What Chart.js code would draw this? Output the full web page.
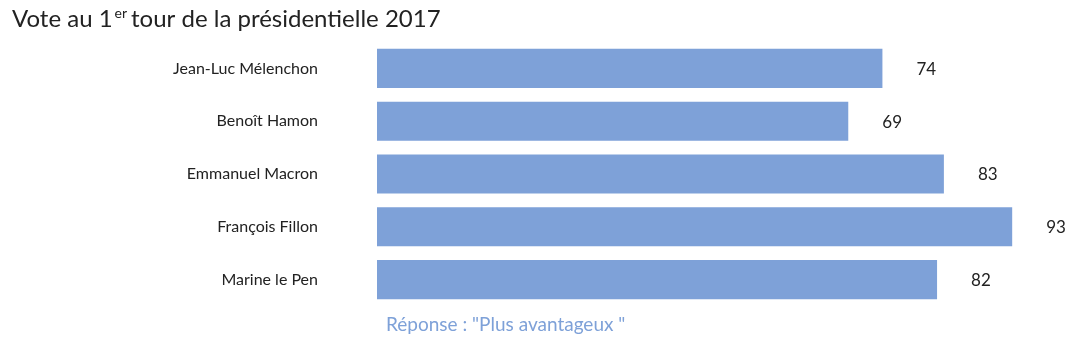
<!DOCTYPE html>
<html>
<head>
<meta charset="utf-8">
<script src="https://cdn.jsdelivr.net/npm/chart.js@4"></script>
<style>
  html, body { margin: 0; padding: 0; background: #fff; }
  #wrap { width: 1077px; height: 345px; position: relative; }
</style>
</head>
<body>
<div id="wrap"><canvas id="myChart" width="1077" height="345"></canvas></div>
<script>
// data
const candidats = ["Jean-Luc Mélenchon", "Benoît Hamon", "Emmanuel Macron", "François Fillon", "Marine le Pen"];
const scores = [74, 69, 83, 93, 82];
const serieNom = 'Réponse : "Plus avantageux "';

const barColor = "#7ea1d8";
const textColor = "#222222";
const fontFam = "Lato, 'Open Sans', sans-serif";

// title with superscript + value labels + series name
const extras = {
    id: "extras",
    afterDatasetsDraw(chart) {
        const ctx = chart.ctx;
        ctx.save();
        // value labels at end of bars
        ctx.fillStyle = textColor;
        ctx.font = "17px " + fontFam;
        ctx.textAlign = "left";
        ctx.textBaseline = "middle";
        chart.getDatasetMeta(0).data.forEach((bar, i) => {
            ctx.fillText(String(scores[i]), bar.x + 34, bar.y + 1);
        });
        // title
        ctx.textBaseline = "alphabetic";
        ctx.font = "24px " + fontFam;
        let x = 12;
        const base = 27;
        ctx.fillText("Vote au 1", x, base);
        x += ctx.measureText("Vote au 1").width + 2;
        ctx.font = "14px " + fontFam;
        ctx.fillText("er", x, base - 9);
        x += ctx.measureText("er").width + 4;
        ctx.font = "24px " + fontFam;
        ctx.fillText("tour de la présidentielle 2017", x, base);
        // series name under the bars
        ctx.fillStyle = barColor;
        ctx.font = "19px " + fontFam;
        ctx.fillText(serieNom, chart.chartArea.left + 9, 331);
        ctx.restore();
    }
};

const myChartRef = document.getElementById("myChart").getContext("2d");
new Chart(myChartRef, {
    type: "bar",
    data: {
        labels: candidats,
        datasets: [
            {
                label: serieNom,
                data: scores,
                backgroundColor: barColor,
                borderWidth: 0,
                barPercentage: 0.74,
                categoryPercentage: 1
            }
        ]
    },
    options: {
        indexAxis: "y",
        responsive: false,
        animation: false,
        layout: { padding: { top: 42, bottom: 39, left: 0, right: 17 } },
        plugins: {
            legend: { display: false },
            tooltip: { enabled: false }
        },
        scales: {
            x: { display: false, min: 0, max: 100 },
            y: {
                grid: { display: false, drawTicks: false },
                border: { display: false },
                ticks: {
                    color: textColor,
                    font: { family: fontFam, size: 16 },
                    padding: 59
                },
                afterFit(scale) {
                    scale.width = 377;
                    scale.paddingTop = 0;
                    scale.paddingBottom = 0;
                }
            }
        }
    },
    plugins: [extras]
});
</script>
</body>
</html>
